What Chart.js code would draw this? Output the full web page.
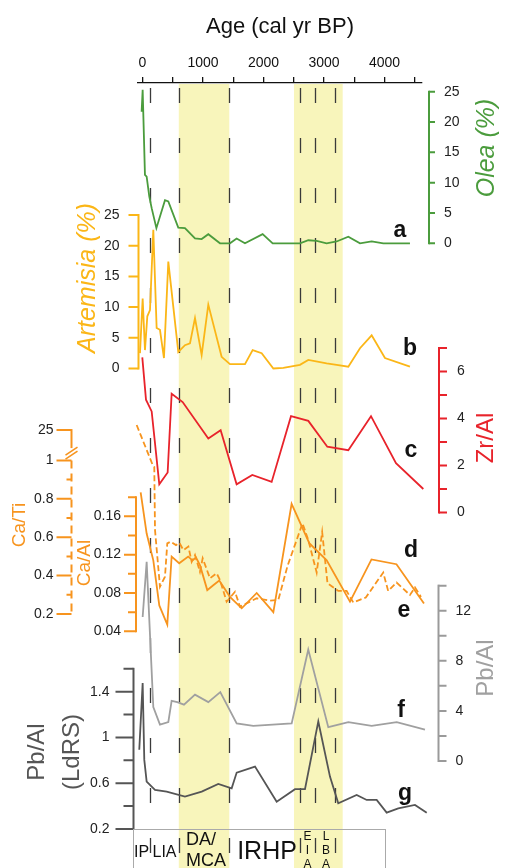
<!DOCTYPE html>
<html>
<head>
<meta charset="utf-8">
<script src="https://cdn.jsdelivr.net/npm/chart.js@4.4.0/dist/chart.umd.min.js"></script>
<style>
html, body { margin: 0; padding: 0; background: #fff; }
canvas { display: block; }
</style>
</head>
<body>
<canvas id="chart" width="510" height="868"></canvas>
<script>
// ---- data (age in cal yr BP) ----
var oleaAge = [-14, 3, 41, 69, 113, 152, 230, 372, 427, 592, 702, 868, 978, 1088, 1281, 1446, 1556, 1694, 1986, 2152, 2603, 2741, 2879, 3044, 3209, 3402, 3595, 3788, 3981, 4421];
var oleaVal = [21.7, 25.3, 11.3, 11.0, 7.7, 5.8, 2.5, 7.1, 6.9, 2.6, 2.5, 0.8, 0.7, 1.5, 0, 0, 0.8, 0, 1.5, 0, 0, 0.5, 0.4, 0, 0.3, 1.1, 0, 0.3, 0, 0];

var artAge = [-41, 3, 41, 80, 124, 179, 234, 289, 355, 427, 592, 702, 785, 868, 978, 1088, 1308, 1446, 1694, 1821, 1970, 2163, 2328, 2603, 2741, 3044, 3209, 3402, 3595, 3788, 4008, 4421];
var artVal = [2.5, 11.4, 3.0, 8.5, 9.5, 22.6, 6.6, 6.3, 1.7, 17.4, 2.7, 3.8, 4.1, 8.2, 2.2, 10.4, 1.9, 0.7, 0.7, 3.0, 2.5, 0, 0.1, 0.6, 1.4, 0.85, 0.6, 0.3, 3.3, 5.4, 1.7, 0.3];

var zrAge = [-3, 58, 152, 278, 416, 482, 664, 1088, 1292, 1556, 1815, 2135, 2455, 2741, 3055, 3402, 3777, 4190, 4642];
var zrVal = [6.6, 4.8, 4.3, 1.2, 1.7, 5.05, 4.7, 3.15, 3.5, 1.2, 1.6, 1.3, 4.1, 3.9, 2.8, 2.65, 4.1, 2.1, 1.0];

var caAlAge = [-30, 69, 179, 278, 410, 482, 607, 755, 828, 884, 950, 1071, 1170, 1269, 1446, 1640, 1888, 2163, 2465, 2757, 3045, 3430, 3785, 4198, 4653];
var caAlVal = [0.185, 0.142, 0.114, 0.067, 0.047, 0.118, 0.111, 0.118, 0.114, 0.117, 0.109, 0.083, 0.088, 0.093, 0.076, 0.064, 0.080, 0.060, 0.173, 0.132, 0.114, 0.071, 0.115, 0.110, 0.069];

var caTiAge = [-96, 169, 195, 207, 289, 372, 410, 466, 554, 610, 676, 759, 813, 868, 950, 995, 1116, 1226, 1281, 1391, 1529, 1612, 1888, 2107, 2245, 2397, 2645, 2741, 2879, 2970, 3058, 3236, 3374, 3484, 3691, 3979, 4061, 4200, 4421, 4504, 4603];
var caTiVal = [29, 0.976, 0.966, 0.638, 0.342, 0.394, 0.568, 0.577, 0.559, 0.571, 0.533, 0.551, 0.472, 0.507, 0.420, 0.490, 0.386, 0.412, 0.377, 0.264, 0.316, 0.238, 0.282, 0.270, 0.273, 0.45, 0.672, 0.585, 0.416, 0.627, 0.36, 0.32, 0.32, 0.26, 0.286, 0.416, 0.32, 0.364, 0.299, 0.338, 0.289];

var pbAge = [3, 69, 179, 289, 427, 482, 575, 686, 868, 1088, 1286, 1557, 1831, 2466, 2740, 3071, 3402, 3788, 4202, 4669];
var pbVal = [11.5, 15.9, 4.3, 2.9, 3.1, 4.8, 4.7, 4.5, 5.3, 4.7, 5.5, 3.0, 2.8, 3.0, 8.9, 2.7, 3.1, 2.8, 3.1, 2.5];

var ldAge = [-53, 3, 30, 69, 207, 400, 702, 979, 1253, 1474, 1557, 1860, 2218, 2521, 2686, 2906, 3099, 3236, 3540, 3706, 3871, 4036, 4228, 4504, 4698, 5000];
var ldVal = [0.892, 1.476, 0.804, 0.614, 0.541, 0.527, 0.483, 0.527, 0.594, 0.556, 0.693, 0.746, 0.439, 0.548, 0.548, 1.14, 0.658, 0.425, 0.498, 0.454, 0.454, 0.343, 0.381, 0.41, 0.343, 0.358];

// periods
var shadeStart = [600, 2504];
var shadeEnd = [1435, 3309];
var boundaries = [124, 608, 1435, 2603, 2851, 3182];

// ticks
var xTicks = [0, 500, 1000, 1500, 2000, 2500, 3000, 3500, 4000, 4500];
var oleaTicks = [0, 5, 10, 15, 20, 25];
var artTicks = [0, 5, 10, 15, 20, 25];
var zrTicks = [0, 2, 4, 6], zrMinor = [1, 3, 5, 7];
var caTiTicks = [0.2, 0.4, 0.6, 0.8, 1, 25], caTiMinor = [0.3, 0.5, 0.7, 0.9];
var caAlTicks = [0.04, 0.08, 0.12, 0.16], caAlMinor = [0.06, 0.10, 0.14, 0.18];
var pbTicks = [0, 4, 8, 12], pbMinor = [2, 6, 10, 14];
var ldTicks = [0.2, 0.6, 1, 1.4], ldMinor = [0.4, 0.8, 1.2, 1.6];

// ---- styling / layout ----
var FONT = "'Liberation Sans', Arial, sans-serif";
var GREEN = '#4b9c3d', GOLD = '#fbb617', ORANGE = '#f7941e', RED = '#e8232b', LGRAY = '#a0a0a0', DGRAY = '#555555';
var AREA_TOP = 83, AREA_BOTTOM = 850;

Chart.defaults.font.family = FONT;

// axis break for Ca/Ti (values above 1 squeezed into the break)
function caTiPlot(v) { return v <= 1 ? v : 1 + (v - 1) * 0.158 / 24; }

function band(vHi, pHi, vLo, pLo) {
  var u = (vHi - vLo) / (pLo - pHi);
  return { min: vLo - (AREA_BOTTOM - pLo) * u, max: vHi + (pHi - AREA_TOP) * u };
}
function pts(xs, ys, tf) {
  return xs.map(function (x, i) { return { x: x, y: tf ? tf(ys[i]) : ys[i] }; });
}
function yScale(b) {
  return { type: 'linear', display: false, min: b.min, max: b.max };
}
function line(label, data, axis, color, dash) {
  return {
    label: label, data: data, yAxisID: axis, borderColor: color, borderWidth: 1.8,
    borderDash: dash || [], pointRadius: 0, tension: 0, fill: false, clip: false
  };
}

var axisDefs = [
  { scale: 'yOlea', x: 429, side: 'right', major: oleaTicks, minor: [], len: 6, minorLen: 6, color: GREEN, gap: 15 },
  { scale: 'yArt', x: 138.5, side: 'left', major: artTicks, minor: [], len: 10, minorLen: 10, color: GOLD, gap: 19 },
  { scale: 'yZr', x: 439, side: 'right', major: zrTicks, minor: zrMinor, len: 8, minorLen: 8, color: RED, gap: 18 },
  { scale: 'yCaTi', x: 71.5, side: 'left', major: caTiTicks, minor: caTiMinor, len: 15, minorLen: 5, color: ORANGE, gap: 18, tf: caTiPlot, broken: true },
  { scale: 'yCaAl', x: 136, side: 'left', major: caAlTicks, minor: caAlMinor, len: 12, minorLen: 8, color: ORANGE, gap: 15, fmt: function (v) { return v.toFixed(2); } },
  { scale: 'yPb', x: 438.5, side: 'right', major: pbTicks, minor: pbMinor, len: 8, minorLen: 8, color: '#9a9a9a', gap: 17 },
  { scale: 'yLd', x: 133.5, side: 'left', major: ldTicks, minor: ldMinor, len: 18, minorLen: 10, color: DGRAY, gap: 24 }
];

var titles = [
  { text: 'Age (cal yr BP)', x: 280, y: 27, rot: 0, font: '22px ' + FONT, color: '#111' },
  { text: 'Olea (%)', x: 487, y: 148, rot: -1, font: 'italic 25px ' + FONT, color: GREEN },
  { text: 'Artemisia (%)', x: 88, y: 278, rot: -1, font: 'italic 25px ' + FONT, color: GOLD },
  { text: 'Zr/Al', x: 486, y: 438, rot: -1, font: '24px ' + FONT, color: RED },
  { text: 'Ca/Ti', x: 20, y: 525, rot: -1, font: '19px ' + FONT, color: ORANGE },
  { text: 'Ca/Al', x: 85, y: 563, rot: -1, font: '19px ' + FONT, color: ORANGE },
  { text: 'Pb/Al', x: 486, y: 668, rot: -1, font: '24px ' + FONT, color: LGRAY },
  { text: 'Pb/Al', x: 37, y: 752, rot: -1, font: '24px ' + FONT, color: DGRAY },
  { text: '(LdRS)', x: 72, y: 752, rot: -1, font: '24px ' + FONT, color: DGRAY }
];

var letters = [
  { t: 'a', x: 400, y: 237 }, { t: 'b', x: 410, y: 355 }, { t: 'c', x: 411, y: 457 },
  { t: 'd', x: 411, y: 557 }, { t: 'e', x: 404, y: 617 }, { t: 'f', x: 401, y: 717 }, { t: 'g', x: 405, y: 800 }
];

var periodLabels = [
  { t: 'IP', x: 141.5, y: 853, size: 16 }, { t: 'LIA', x: 164.5, y: 853, size: 16 },
  { t: 'DA/', x: 201, y: 840, size: 18 }, { t: 'MCA', x: 206, y: 861, size: 18 },
  { t: 'IRHP', x: 267, y: 852, size: 25 },
  { t: 'E', x: 307.5, y: 837, size: 12 }, { t: 'I', x: 307.5, y: 851, size: 12 }, { t: 'A', x: 307.5, y: 865, size: 12 },
  { t: 'L', x: 326, y: 837, size: 12 }, { t: 'B', x: 326, y: 851, size: 12 }, { t: 'A', x: 326, y: 865, size: 12 }
];

var backdrop = {
  id: 'backdrop',
  beforeDraw: function (chart) {
    var ctx = chart.ctx, xs = chart.scales.x;
    ctx.save();
    ctx.fillStyle = '#f8f5bb';
    for (var i = 0; i < shadeStart.length; i++) {
      var a = xs.getPixelForValue(shadeStart[i]), b = xs.getPixelForValue(shadeEnd[i]);
      ctx.fillRect(a, AREA_TOP + 1, b - a, 868 - AREA_TOP);
    }
    ctx.strokeStyle = '#3a3a3a';
    ctx.lineWidth = 1.3;
    ctx.setLineDash([15, 35]);
    boundaries.forEach(function (v) {
      var px = Math.round(xs.getPixelForValue(v)) + 0.5;
      ctx.beginPath();
      ctx.moveTo(px, 88);
      ctx.lineTo(px, 868);
      ctx.stroke();
    });
    ctx.restore();
  }
};

var overlay = {
  id: 'overlay',
  afterDatasetsDraw: function (chart) {
    var ctx = chart.ctx;
    ctx.save();
    ctx.setLineDash([]);
    axisDefs.forEach(function (d) {
      var sc = chart.scales[d.scale];
      var tf = d.tf || function (v) { return v; };
      var dir = d.side === 'left' ? -1 : 1;
      var all = d.major.concat(d.minor).map(function (v) { return sc.getPixelForValue(tf(v)); });
      var top = Math.min.apply(null, all), bot = Math.max.apply(null, all);
      ctx.strokeStyle = d.color;
      ctx.lineWidth = 2;
      if (d.broken) {
        var p1 = sc.getPixelForValue(1);
        ctx.beginPath(); ctx.moveTo(d.x, top - 1); ctx.lineTo(d.x, top + 18); ctx.stroke();
        ctx.lineWidth = 1.6;
        ctx.beginPath();
        ctx.moveTo(d.x - 6, top + 25); ctx.lineTo(d.x + 6, top + 17);
        ctx.moveTo(d.x - 6, top + 29); ctx.lineTo(d.x + 6, top + 21);
        ctx.stroke();
        ctx.lineWidth = 2;
        ctx.setLineDash([8, 5]);
        ctx.beginPath(); ctx.moveTo(d.x, p1); ctx.lineTo(d.x, bot); ctx.stroke();
        ctx.setLineDash([]);
      } else {
        ctx.beginPath(); ctx.moveTo(d.x, top - 1); ctx.lineTo(d.x, bot + 1); ctx.stroke();
      }
      ctx.beginPath();
      d.major.forEach(function (v) {
        var py = sc.getPixelForValue(tf(v));
        ctx.moveTo(d.x, py); ctx.lineTo(d.x + dir * d.len, py);
      });
      d.minor.forEach(function (v) {
        var py = sc.getPixelForValue(tf(v));
        ctx.moveTo(d.x, py); ctx.lineTo(d.x + dir * d.minorLen, py);
      });
      ctx.stroke();
      ctx.fillStyle = '#222';
      ctx.font = '14px ' + FONT;
      ctx.textAlign = d.side === 'left' ? 'right' : 'left';
      ctx.textBaseline = 'middle';
      d.major.forEach(function (v) {
        var py = sc.getPixelForValue(tf(v));
        ctx.fillText(d.fmt ? d.fmt(v) : String(v), d.x + dir * d.gap, py);
      });
    });

    titles.forEach(function (t) {
      ctx.save();
      ctx.translate(t.x, t.y);
      if (t.rot) ctx.rotate(-Math.PI / 2);
      ctx.font = t.font;
      ctx.fillStyle = t.color;
      ctx.textAlign = 'center';
      ctx.textBaseline = 'middle';
      ctx.fillText(t.text, 0, 0);
      ctx.restore();
    });

    ctx.font = 'bold 23px ' + FONT;
    ctx.fillStyle = '#111';
    ctx.textAlign = 'center';
    ctx.textBaseline = 'alphabetic';
    letters.forEach(function (l) { ctx.fillText(l.t, l.x, l.y); });

    ctx.strokeStyle = '#aaa';
    ctx.lineWidth = 1;
    ctx.strokeRect(133.5, 829.5, 252, 60);
    ctx.fillStyle = '#111';
    ctx.textBaseline = 'middle';
    periodLabels.forEach(function (p) {
      ctx.font = p.size + 'px ' + FONT;
      ctx.fillText(p.t, p.x, p.y);
    });
    ctx.restore();
  }
};

var bOlea = band(25, 91.7, 0, 243.3);
var bArt = band(25, 215, 0, 368.5);
var bZr = band(6, 371.5, 0, 512.5);
var bCaTi = band(1, 460.4, 0.2, 614);
var bCaAl = band(0.16, 516.3, 0.04, 631.3);
var bPb = band(12, 610.7, 0, 761);
var bLd = band(1.4, 691.7, 0.2, 829);

new Chart(document.getElementById('chart'), {
  type: 'line',
  data: {
    datasets: [
      line('Olea', pts(oleaAge, oleaVal), 'yOlea', GREEN),
      line('Artemisia', pts(artAge, artVal), 'yArt', GOLD),
      line('Zr/Al', pts(zrAge, zrVal), 'yZr', RED),
      line('Ca/Al', pts(caAlAge, caAlVal), 'yCaAl', ORANGE),
      line('Ca/Ti', pts(caTiAge, caTiVal, caTiPlot), 'yCaTi', ORANGE, [6, 3]),
      line('Pb/Al', pts(pbAge, pbVal), 'yPb', LGRAY),
      line('Pb/Al (LdRS)', pts(ldAge, ldVal), 'yLd', DGRAY)
    ]
  },
  options: {
    responsive: false,
    animation: false,
    devicePixelRatio: 1,
    layout: { padding: { left: 138, right: 88, top: 0, bottom: 868 - AREA_BOTTOM } },
    plugins: { legend: { display: false }, tooltip: { enabled: false } },
    scales: {
      x: {
        type: 'linear', position: 'top', min: -74, max: 4620, bounds: 'data',
        afterFit: function (s) { s.height = AREA_TOP; },
        afterBuildTicks: function (s) { s.ticks = xTicks.map(function (v) { return { value: v }; }); },
        ticks: {
          autoSkip: false, maxRotation: 0, padding: 5, color: '#111', font: { size: 14 },
          callback: function (v) { return (v % 1000 === 0) ? String(v) : ''; }
        },
        grid: { drawOnChartArea: false, tickLength: 6, color: '#111', lineWidth: 1.3 },
        border: { color: '#111', width: 1.3 }
      },
      yOlea: yScale(bOlea),
      yArt: yScale(bArt),
      yZr: yScale(bZr),
      yCaTi: yScale(bCaTi),
      yCaAl: yScale(bCaAl),
      yPb: yScale(bPb),
      yLd: yScale(bLd)
    }
  },
  plugins: [backdrop, overlay]
});
</script>
</body>
</html>
